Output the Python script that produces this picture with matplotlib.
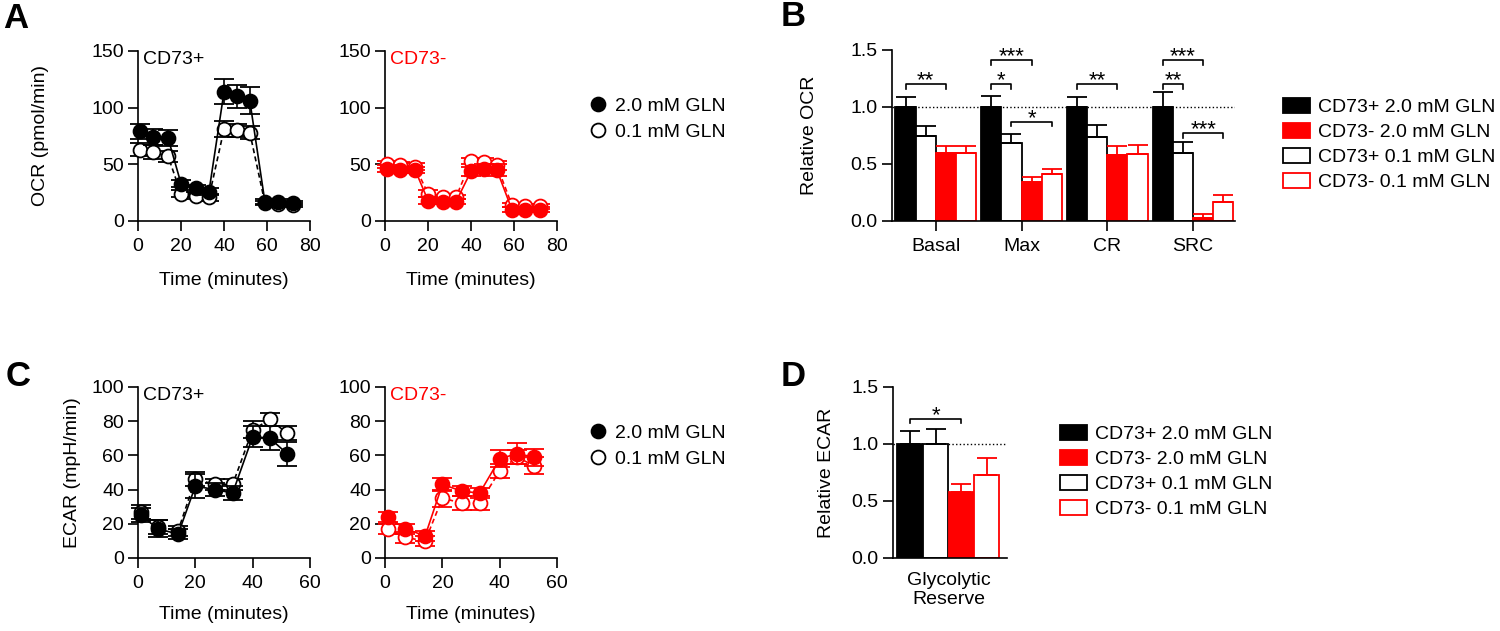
import matplotlib
matplotlib.use('Agg')
import matplotlib.pyplot as plt
from matplotlib.lines import Line2D
from matplotlib.patches import Patch
import numpy as np

plt.rcParams['font.family'] = ['Liberation Sans', 'DejaVu Sans']
plt.rcParams['font.size'] = 14

RED = '#ff0000'

# ---- data ----
ocr_time = [1, 7, 14, 20, 27, 33, 40, 46, 52, 59, 65, 72]
ocr_pos_hi = [79, 74, 73, 33, 29, 26, 114, 110, 106, 17, 17, 16]
ocr_pos_hi_err = [7, 7, 7, 3, 3, 3, 11, 10, 12, 2, 2, 2]
ocr_pos_lo = [63, 61, 57, 24, 22, 21, 81, 80, 78, 16, 15, 14]
ocr_pos_lo_err = [6, 6, 5, 3, 3, 3, 7, 6, 6, 2, 2, 2]
ocr_neg_hi = [46, 45, 45, 18, 17, 17, 44, 46, 45, 10, 10, 10]
ocr_neg_hi_err = [3, 3, 3, 3, 2, 2, 4, 4, 5, 2, 2, 2]
ocr_neg_lo = [50, 49, 48, 24, 21, 21, 53, 52, 49, 14, 13, 13]
ocr_neg_lo_err = [3, 3, 3, 3, 2, 2, 3, 4, 4, 2, 2, 2]

ecar_time = [1, 7, 14, 20, 27, 33, 40, 46, 52]
ecar_pos_hi = [25, 17, 14, 42, 40, 38, 71, 70, 61]
ecar_pos_hi_err = [4, 5, 3, 7, 4, 4, 6, 7, 7]
ecar_pos_lo = [27, 18, 16, 46, 43, 43, 75, 81, 73]
ecar_pos_lo_err = [4, 4, 3, 4, 3, 3, 5, 4, 4]
ecar_neg_hi = [24, 17, 13, 43, 39, 38, 58, 61, 59]
ecar_neg_hi_err = [3, 3, 3, 4, 3, 3, 5, 6, 5]
ecar_neg_lo = [17, 12, 10, 35, 32, 32, 51, 59, 54]
ecar_neg_lo_err = [3, 3, 3, 5, 4, 4, 4, 4, 5]

ocr_groups = ['Basal', 'Max', 'CR', 'SRC']
# bar order within group: CD73+ 2.0, CD73+ 0.1, CD73- 2.0, CD73- 0.1
rel_ocr = [
    [1.0, 1.0, 1.0, 1.0],
    [0.745, 0.68, 0.74, 0.60],
    [0.595, 0.345, 0.58, 0.03],
    [0.595, 0.41, 0.59, 0.17],
]
rel_ocr_err = [
    [0.09, 0.10, 0.085, 0.13],
    [0.085, 0.08, 0.10, 0.09],
    [0.065, 0.045, 0.08, 0.035],
    [0.065, 0.045, 0.08, 0.055],
]
ocr_sig = [(0, 0, 2, 1.20, '**'), (1, 0, 1, 1.20, '*'), (1, 0, 2, 1.41, '***'),
           (1, 1, 3, 0.87, '*'), (2, 0, 2, 1.20, '**'), (3, 0, 1, 1.20, '**'),
           (3, 0, 2, 1.41, '***'), (3, 1, 3, 0.77, '***')]

ecar_group = 'Glycolytic\nReserve'
rel_ecar = [1.0, 1.0, 0.58, 0.73]
rel_ecar_err = [0.11, 0.13, 0.065, 0.15]
ecar_sig = [(0, 2, 1.22, '*')]

bar_labels = ['CD73+ 2.0 mM GLN', 'CD73- 2.0 mM GLN', 'CD73+ 0.1 mM GLN', 'CD73- 0.1 mM GLN']
bar_face = ['black', 'white', RED, 'white']
bar_edge = ['black', 'black', RED, RED]


def style(ax, ypad=3):
    for s in ['top', 'right']:
        ax.spines[s].set_visible(False)
    for s in ['left', 'bottom']:
        ax.spines[s].set_linewidth(1.2)
    ax.tick_params(direction='out', length=7, width=1.2, labelsize=14)
    ax.tick_params(axis='x', pad=5)
    ax.tick_params(axis='y', pad=ypad)


def trace(ax, t, y, err, color, filled, z):
    ax.errorbar(t, y, yerr=err, color=color, ls='-' if filled else (0, (3, 2)),
                marker='o', ms=10, mew=1.3, mfc=color if filled else 'white',
                mec=color, lw=1.2, elinewidth=1.2, capsize=7.5, capthick=1.2,
                zorder=z, clip_on=False)


def time_panel(ax, t, hi, hi_err, lo, lo_err, color, title, ylim, yticks, xmax):
    trace(ax, t, lo, lo_err, color, False, 3)
    trace(ax, t, hi, hi_err, color, True, 4)
    ax.set_xlim(0, xmax)
    ax.set_ylim(*ylim)
    ax.set_yticks(yticks)
    ax.set_xticks(np.arange(0, xmax + 1, 20))
    ax.text(0.03, 0.95, title, transform=ax.transAxes, color=color,
            ha='left', va='center', fontsize=14)
    style(ax)
    ax.set_xlabel('Time (minutes)')
    ax.xaxis.set_label_coords(0.5, -0.30)


def bracket(ax, x1, x2, h, label, d=0.04):
    ax.plot([x1, x1, x2, x2], [h - d, h, h, h - d], color='black', lw=1.2, clip_on=False)
    ax.text((x1 + x2) / 2, h - 0.02, label, ha='center', va='baseline', fontsize=16)


fig = plt.figure(figsize=(15, 6.31), dpi=100)

# A
axA1 = fig.add_axes([0.092, 0.6498, 0.1147, 0.2694])
time_panel(axA1, ocr_time, ocr_pos_hi, ocr_pos_hi_err, ocr_pos_lo, ocr_pos_lo_err,
           'black', 'CD73+', (0, 150), [0, 50, 100, 150], 80)
axA1.set_ylabel('OCR (pmol/min)')
axA1.yaxis.set_label_coords(-0.52, 0.5)

axA2 = fig.add_axes([0.2567, 0.6498, 0.1147, 0.2694])
time_panel(axA2, ocr_time, ocr_neg_hi, ocr_neg_hi_err, ocr_neg_lo, ocr_neg_lo_err,
           RED, 'CD73-', (0, 150), [0, 50, 100, 150], 80)

# C
axC1 = fig.add_axes([0.092, 0.1157, 0.1147, 0.271])
time_panel(axC1, ecar_time, ecar_pos_hi, ecar_pos_hi_err, ecar_pos_lo, ecar_pos_lo_err,
           'black', 'CD73+', (0, 100), [0, 20, 40, 60, 80, 100], 60)
axC1.set_ylabel('ECAR (mpH/min)')
axC1.yaxis.set_label_coords(-0.33, 0.5)
axC1.xaxis.set_label_coords(0.5, -0.28)

axC2 = fig.add_axes([0.2567, 0.1157, 0.1147, 0.271])
time_panel(axC2, ecar_time, ecar_neg_hi, ecar_neg_hi_err, ecar_neg_lo, ecar_neg_lo_err,
           RED, 'CD73-', (0, 100), [0, 20, 40, 60, 80, 100], 60)
axC2.xaxis.set_label_coords(0.5, -0.28)

# time-course legends
gln_handles = [Line2D([], [], ls='none', marker='o', ms=10, mfc='black', mec='black', mew=1.3),
               Line2D([], [], ls='none', marker='o', ms=10, mfc='white', mec='black', mew=1.3)]
gln_labels = ['2.0 mM GLN', '0.1 mM GLN']
for top in [0.8463, 0.328]:
    fig.legend(gln_handles, gln_labels, loc='upper left', bbox_to_anchor=(0.392, top),
               frameon=False, borderpad=0, borderaxespad=0, handlelength=1.0,
               handletextpad=0.4, labelspacing=0.46, fontsize=14)

# B
axB = fig.add_axes([0.5947, 0.6498, 0.2287, 0.271])
w = 0.235
xg = np.arange(len(ocr_groups))
for i in range(4):
    xb = xg + (i - 1.5) * w
    ecol = bar_edge[i]
    axB.bar(xb, rel_ocr[i], width=w, color=bar_face[i], edgecolor=ecol, linewidth=1.3, zorder=2)
    axB.errorbar(xb, rel_ocr[i], yerr=[np.zeros(4), rel_ocr_err[i]], fmt='none',
                 ecolor=ecol, elinewidth=1.3, capsize=7, capthick=1.3, zorder=3)
axB.axhline(1.0, ls=':', color='black', lw=1.0, zorder=1)
for g, i, j, h, lab in ocr_sig:
    bracket(axB, g + (i - 1.5) * w, g + (j - 1.5) * w, h, lab)
axB.set_xlim(-0.51, 3.49)
axB.set_ylim(0, 1.5)
axB.set_yticks([0.0, 0.5, 1.0, 1.5])
axB.set_yticklabels(['0.0', '0.5', '1.0', '1.5'])
axB.set_xticks(xg)
axB.set_xticklabels(ocr_groups)
style(axB, ypad=3.5)
axB.set_ylabel('Relative OCR')
axB.yaxis.set_label_coords(-0.216, 0.5)

# D
axD = fig.add_axes([0.5953, 0.1157, 0.076, 0.271])
xd = np.arange(4)
for i in range(4):
    axD.bar(xd[i], rel_ecar[i], width=0.97, color=bar_face[i], edgecolor=bar_edge[i],
            linewidth=1.3, zorder=2)
    axD.errorbar(xd[i], rel_ecar[i], yerr=[[0], [rel_ecar_err[i]]], fmt='none',
                 ecolor=bar_edge[i], elinewidth=1.3, capsize=7, capthick=1.3, zorder=3)
axD.axhline(1.0, ls=':', color='black', lw=1.0, zorder=1)
for i, j, h, lab in ecar_sig:
    bracket(axD, xd[i], xd[j], h, lab)
axD.set_xlim(-0.66, 3.78)
axD.set_ylim(0, 1.5)
axD.set_yticks([0.0, 0.5, 1.0, 1.5])
axD.set_yticklabels(['0.0', '0.5', '1.0', '1.5'])
axD.set_xticks([1.5])
axD.set_xticklabels([ecar_group])
style(axD, ypad=3.5)
axD.tick_params(axis='x', length=0, pad=10)
axD.set_ylabel('Relative ECAR')
axD.yaxis.set_label_coords(-0.51, 0.5)

# bar legends
bar_handles = [Patch(facecolor=bar_face[k], edgecolor=bar_edge[k], linewidth=1.3) for k in [0, 2, 1, 3]]
for anchor in [(0.8553, 0.845), (0.7067, 0.3265)]:
    fig.legend(bar_handles, bar_labels, loc='upper left', bbox_to_anchor=anchor,
               frameon=False, borderpad=0, borderaxespad=0, handlelength=1.4, handleheight=0.85,
               handletextpad=0.4, labelspacing=0.33, fontsize=14)

# panel letters
for lab, x, y in [('A', 16, 18), ('B', 793, 17), ('C', 18, 377), ('D', 793, 377)]:
    fig.text(x / 1500, 1 - y / 631, lab, fontsize=25, fontweight='bold', ha='center', va='center')

fig.savefig('out.png', dpi=100)
